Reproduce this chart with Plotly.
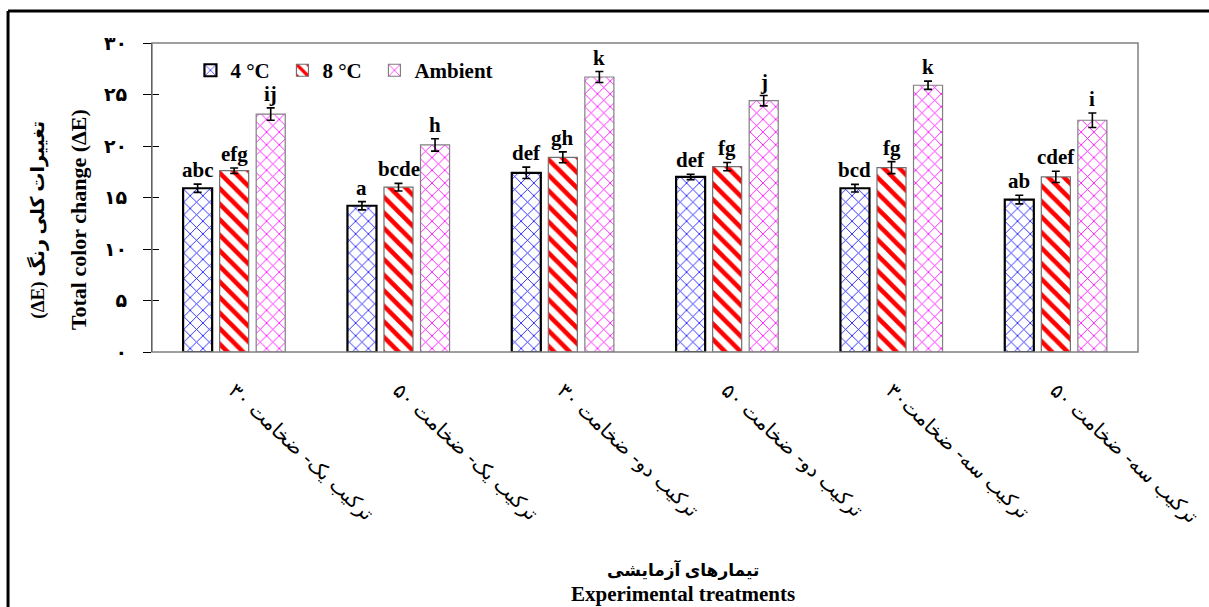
import plotly.graph_objects as go

# Treatments (formulation - thickness)
treatments = [
    "ترکیب یک- ضخامت ۳۰",
    "ترکیب یک- ضخامت ۵۰",
    "ترکیب دو- ضخامت ۳۰",
    "ترکیب دو- ضخامت ۵۰",
    "ترکیب سه- ضخامت۳۰",
    "ترکیب سه- ضخامت ۵۰",
]

# Total colour change (ΔE) per storage temperature
de_4c = [15.9, 14.2, 17.4, 17.0, 15.9, 14.8]
de_8c = [17.6, 16.0, 18.9, 18.0, 17.9, 17.0]
de_amb = [23.1, 20.1, 26.7, 24.4, 25.9, 22.5]

# Standard errors
err_4c = [0.4, 0.4, 0.55, 0.26, 0.37, 0.42]
err_8c = [0.27, 0.37, 0.53, 0.4, 0.58, 0.55]
err_amb = [0.6, 0.6, 0.53, 0.5, 0.4, 0.7]

# Duncan grouping letters
let_4c = ["abc", "a", "def", "def", "bcd", "ab"]
let_8c = ["efg", "bcde", "gh", "fg", "fg", "cdef"]
let_amb = ["ij", "h", "k", "j", "k", "i"]

series_names = ["4 °C", "8 °C", "Ambient"]

y_tickvals = [0, 5, 10, 15, 20, 25, 30]
y_ticktext = ["۰", "۵", "۱۰", "۱۵", "۲۰", "۲۵", "۳۰"]

SERIF = "Liberation Serif, Times New Roman, DejaVu Sans"
W, H = 1209, 607
ML, MR, MT, MB = 152, 71, 43, 255
BARGAP, GROUPGAP = 0.333, 0.205

styles = [
    dict(shape="x", fg="#1010FF", size=9, sol=0.18, line="#000000", lw=2.2),
    dict(shape="\\", fg="#FF0000", size=11, sol=0.42, line="#707070", lw=1.2),
    dict(shape="x", fg="#FF00FF", size=9, sol=0.18, line="#808080", lw=1.2),
]
values = [de_4c, de_8c, de_amb]
errors = [err_4c, err_8c, err_amb]
letters = [let_4c, let_8c, let_amb]
legend_ids = ["legend", "legend2", "legend3"]
legend_x = [0.0390, 0.1323, 0.2256]

fig = go.Figure()
for name, vals, errs, st, lg in zip(series_names, values, errors, styles, legend_ids):
    fig.add_trace(go.Bar(
        name=name, x=treatments, y=vals, legend=lg,
        marker=dict(
            color="white",
            line=dict(color=st["line"], width=st["lw"]),
            pattern=dict(shape=st["shape"], fgcolor=st["fg"], bgcolor="white",
                         size=st["size"], solidity=st["sol"], fillmode="replace"),
        ),
        error_y=dict(type="data", array=errs, visible=True,
                     color="black", thickness=1.6, width=4),
    ))

# letters above each error bar, shifted to the bar's slot within its group
plot_w = W - ML - MR
slot = plot_w / len(treatments) * (1 - BARGAP) / 3
annotations = []
for k, (vals, errs, labs) in enumerate(zip(values, errors, letters)):
    for cat, v, e, lab in zip(treatments, vals, errs, labs):
        annotations.append(dict(
            x=cat, y=v + e, xref="x", yref="y", text=lab, showarrow=False,
            xshift=(k - 1) * slot, yanchor="bottom", yshift=0,
            font=dict(family=SERIF, size=21, color="black", weight="bold"),
        ))

# axis titles
annotations += [
    dict(text="(ΔE) تغییرات کلی رنگ", xref="paper", yref="paper", x=-0.117, y=0.427,
         textangle=-90, showarrow=False, xanchor="center", yanchor="middle",
         font=dict(family=SERIF, size=19, color="black", weight="bold")),
    dict(text="Total color change (ΔE)", xref="paper", yref="paper", x=-0.075, y=0.427,
         textangle=-90, showarrow=False, xanchor="center", yanchor="middle",
         font=dict(family=SERIF, size=22, color="black", weight="bold")),
    dict(text="تیمارهای آزمایشی", xref="paper", yref="paper", x=0.5385, y=-0.703,
         showarrow=False, xanchor="center", yanchor="middle",
         font=dict(family=SERIF, size=17, color="black", weight="bold")),
    dict(text="Experimental treatments", xref="paper", yref="paper", x=0.5385, y=-0.783,
         showarrow=False, xanchor="center", yanchor="middle",
         font=dict(family=SERIF, size=21, color="black", weight="bold")),
]

shapes = [
    # plot-area frame
    dict(type="rect", xref="paper", yref="paper", x0=0, x1=1, y0=0, y1=1,
         line=dict(color="#808080", width=1.5), layer="above"),
    # outer frame (top and left edges)
    dict(type="line", xref="paper", yref="paper", x0=-0.146, x1=1.2, y0=1.1036, y1=1.1036,
         line=dict(color="black", width=3)),
    dict(type="line", xref="paper", yref="paper", x0=-0.146, x1=-0.146, y0=1.1036, y1=-0.9,
         line=dict(color="black", width=3)),
]

legend_style = dict(orientation="h", y=0.977, xanchor="left", yanchor="top",
                    font=dict(family=SERIF, size=21, color="black", weight="bold"),
                    bgcolor="rgba(0,0,0,0)")

fig.update_layout(
    width=W, height=H,
    margin=dict(l=ML, r=MR, t=MT, b=MB, autoexpand=False),
    paper_bgcolor="white", plot_bgcolor="white",
    barmode="group", bargap=BARGAP, bargroupgap=GROUPGAP,
    showlegend=True,
    legend=dict(x=legend_x[0], **legend_style),
    legend2=dict(x=legend_x[1], **legend_style),
    legend3=dict(x=legend_x[2], **legend_style),
    xaxis=dict(showgrid=False, showline=False, ticks="", tickangle=43,
               ticklabelstandoff=22,
               tickfont=dict(family="DejaVu Sans", size=20, color="black")),
    yaxis=dict(range=[0, 30], tickvals=y_tickvals, ticktext=y_ticktext,
               showgrid=False, zeroline=False, showline=True, linecolor="black", linewidth=1,
               ticks="outside", ticklen=8, tickcolor="black", tickwidth=1,
               ticklabelstandoff=12,
               tickfont=dict(family="DejaVu Sans", size=19, color="black", weight="bold")),
    yaxis2=dict(range=[0, 30], tickvals=y_tickvals, overlaying="y", side="left",
                showticklabels=False, showgrid=False, zeroline=False, showline=False,
                ticks="inside", ticklen=7, tickcolor="black", tickwidth=1),
    annotations=annotations,
    shapes=shapes,
)

# invisible companion trace so the inside tick marks are drawn
fig.add_trace(go.Scatter(x=[treatments[0]], y=[0], yaxis="y2", mode="markers",
                         marker=dict(opacity=0), showlegend=False, hoverinfo="skip"))

fig.write_html("out.html")
